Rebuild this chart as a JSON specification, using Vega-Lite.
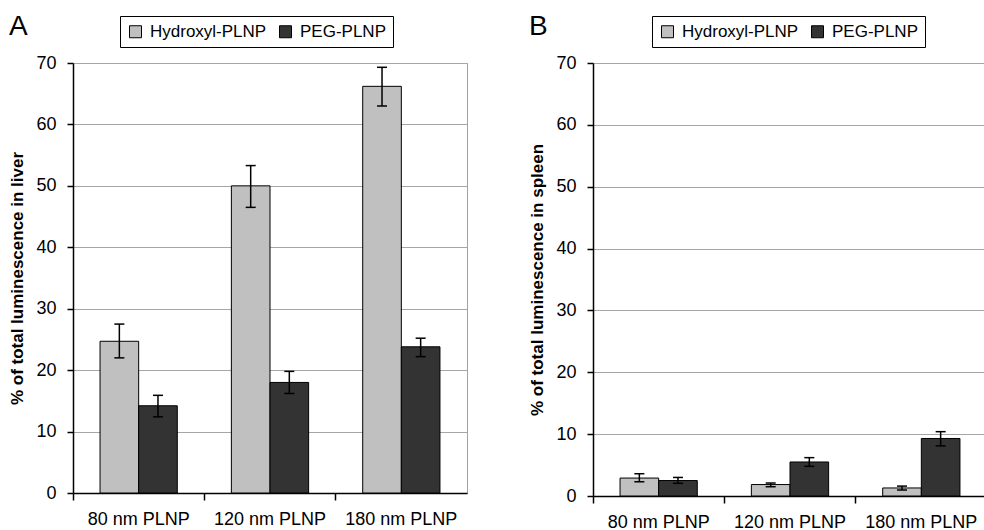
{
  "$schema": "https://vega.github.io/schema/vega-lite/v6.json",
  "padding": {"left": 8, "top": 12, "right": 0, "bottom": 0},
  "spacing": 60,
  "background": "white",
  "config": {
    "font": "Liberation Sans",
    "view": {"stroke": "#a0a0a0", "strokeWidth": 1},
    "axis": {
      "labelFont": "Liberation Sans",
      "labelFontSize": 18,
      "labelColor": "black",
      "domainColor": "black",
      "domainWidth": 1.5,
      "tickColor": "black",
      "tickWidth": 1.5,
      "titleFont": "Liberation Sans",
      "titleColor": "black"
    },
    "legend": {
      "labelFont": "Liberation Sans"
    },
    "title": {"font": "Liberation Sans"}
  },
  "data": {
    "values": [
      {"organ": "liver", "size": "80 nm PLNP", "type": "Hydroxyl-PLNP", "value": 24.7, "lo": 22.0, "hi": 27.5},
      {"organ": "liver", "size": "80 nm PLNP", "type": "PEG-PLNP", "value": 14.2, "lo": 12.4, "hi": 15.9},
      {"organ": "liver", "size": "120 nm PLNP", "type": "Hydroxyl-PLNP", "value": 50.0, "lo": 46.5, "hi": 53.3},
      {"organ": "liver", "size": "120 nm PLNP", "type": "PEG-PLNP", "value": 18.0, "lo": 16.2, "hi": 19.8},
      {"organ": "liver", "size": "180 nm PLNP", "type": "Hydroxyl-PLNP", "value": 66.2, "lo": 63.0, "hi": 69.3},
      {"organ": "liver", "size": "180 nm PLNP", "type": "PEG-PLNP", "value": 23.8, "lo": 22.2, "hi": 25.2},
      {"organ": "spleen", "size": "80 nm PLNP", "type": "Hydroxyl-PLNP", "value": 2.9, "lo": 2.3, "hi": 3.6},
      {"organ": "spleen", "size": "80 nm PLNP", "type": "PEG-PLNP", "value": 2.5, "lo": 2.05, "hi": 3.0},
      {"organ": "spleen", "size": "120 nm PLNP", "type": "Hydroxyl-PLNP", "value": 1.85, "lo": 1.5, "hi": 2.1},
      {"organ": "spleen", "size": "120 nm PLNP", "type": "PEG-PLNP", "value": 5.5, "lo": 4.8, "hi": 6.2},
      {"organ": "spleen", "size": "180 nm PLNP", "type": "Hydroxyl-PLNP", "value": 1.3, "lo": 0.97, "hi": 1.6},
      {"organ": "spleen", "size": "180 nm PLNP", "type": "PEG-PLNP", "value": 9.3, "lo": 8.1, "hi": 10.4}
    ]
  },
  "hconcat": [
    {
      "width": 394,
      "height": 430,
      "title": {"text": "A", "anchor": "start", "frame": "bounds", "fontSize": 28, "fontWeight": "normal", "color": "black", "offset": 4, "dy": 29},
      "transform": [{"filter": "datum.organ == 'liver'"}],
      "encoding": {
        "x": {"field": "size", "type": "nominal", "sort": ["80 nm PLNP", "120 nm PLNP", "180 nm PLNP"], "scale": {"paddingInner": 0, "paddingOuter": 0},
              "axis": {"title": null, "labelAngle": 0, "bandPosition": 0, "tickSize": 7, "labelPadding": 10}},
        "xOffset": {"field": "type", "type": "nominal", "sort": ["Hydroxyl-PLNP", "PEG-PLNP"], "scale": {"paddingInner": 0, "paddingOuter": 0.7}}
      },
      "layer": [
        {
          "mark": {"type": "bar", "stroke": "black", "strokeWidth": 1},
          "encoding": {
            "y": {"field": "value", "type": "quantitative", "title": "% of total luminescence in liver", "scale": {"domain": [0, 70], "nice": false},
                  "axis": {"values": [0, 10, 20, 30, 40, 50, 60, 70], "grid": true, "gridColor": "#a6a6a6", "gridWidth": 1, "tickSize": 6, "labelPadding": 11, "titleFontSize": 17, "titleFontWeight": "bold", "titlePadding": 9}},
            "color": {"field": "type", "type": "nominal", "scale": {"domain": ["Hydroxyl-PLNP", "PEG-PLNP"], "range": ["#c0c0c0", "#333333"]},
                      "legend": {"orient": "none", "legendX": 47, "legendY": -47, "direction": "horizontal", "title": null, "strokeColor": "black", "fillColor": "white", "padding": 7, "symbolType": "square", "symbolSize": 144, "symbolStrokeColor": "black", "symbolStrokeWidth": 1, "symbolOpacity": 1, "labelFontSize": 17, "labelColor": "black", "columnPadding": 10, "labelOffset": 6}}
          }
        },
        {
          "mark": {"type": "rule", "color": "black", "strokeWidth": 1.5},
          "encoding": {"y": {"field": "lo", "type": "quantitative", "title": "% of total luminescence in liver"}, "y2": {"field": "hi"}}
        },
        {
          "mark": {"type": "tick", "color": "black", "thickness": 1.5, "size": 10, "opacity": 1},
          "encoding": {"y": {"field": "lo", "type": "quantitative", "title": "% of total luminescence in liver"}}
        },
        {
          "mark": {"type": "tick", "color": "black", "thickness": 1.5, "size": 10, "opacity": 1},
          "encoding": {"y": {"field": "hi", "type": "quantitative", "title": "% of total luminescence in liver"}}
        }
      ]
    },
    {
      "width": 394,
      "height": 433,
      "title": {"text": "B", "anchor": "start", "frame": "bounds", "fontSize": 28, "fontWeight": "normal", "color": "black", "offset": 4, "dy": 29},
      "transform": [{"filter": "datum.organ == 'spleen'"}],
      "encoding": {
        "x": {"field": "size", "type": "nominal", "sort": ["80 nm PLNP", "120 nm PLNP", "180 nm PLNP"], "scale": {"paddingInner": 0, "paddingOuter": 0},
              "axis": {"title": null, "labelAngle": 0, "bandPosition": 0, "tickSize": 7, "labelPadding": 10}},
        "xOffset": {"field": "type", "type": "nominal", "sort": ["Hydroxyl-PLNP", "PEG-PLNP"], "scale": {"paddingInner": 0, "paddingOuter": 0.7}}
      },
      "layer": [
        {
          "mark": {"type": "bar", "stroke": "black", "strokeWidth": 1},
          "encoding": {
            "y": {"field": "value", "type": "quantitative", "title": "% of total luminescence in spleen", "scale": {"domain": [0, 70], "nice": false},
                  "axis": {"values": [0, 10, 20, 30, 40, 50, 60, 70], "grid": true, "gridColor": "#a6a6a6", "gridWidth": 1, "tickSize": 6, "labelPadding": 11, "titleFontSize": 17, "titleFontWeight": "bold", "titlePadding": 9}},
            "color": {"field": "type", "type": "nominal", "scale": {"domain": ["Hydroxyl-PLNP", "PEG-PLNP"], "range": ["#c0c0c0", "#333333"]},
                      "legend": {"orient": "none", "legendX": 59, "legendY": -47, "direction": "horizontal", "title": null, "strokeColor": "black", "fillColor": "white", "padding": 7, "symbolType": "square", "symbolSize": 144, "symbolStrokeColor": "black", "symbolStrokeWidth": 1, "symbolOpacity": 1, "labelFontSize": 17, "labelColor": "black", "columnPadding": 10, "labelOffset": 6}}
          }
        },
        {
          "mark": {"type": "rule", "color": "black", "strokeWidth": 1.5},
          "encoding": {"y": {"field": "lo", "type": "quantitative", "title": "% of total luminescence in spleen"}, "y2": {"field": "hi"}}
        },
        {
          "mark": {"type": "tick", "color": "black", "thickness": 1.5, "size": 10, "opacity": 1},
          "encoding": {"y": {"field": "lo", "type": "quantitative", "title": "% of total luminescence in spleen"}}
        },
        {
          "mark": {"type": "tick", "color": "black", "thickness": 1.5, "size": 10, "opacity": 1},
          "encoding": {"y": {"field": "hi", "type": "quantitative", "title": "% of total luminescence in spleen"}}
        }
      ]
    }
  ],
  "resolve": {"scale": {"color": "independent", "y": "independent", "x": "independent"}, "legend": {"color": "independent"}}
}
